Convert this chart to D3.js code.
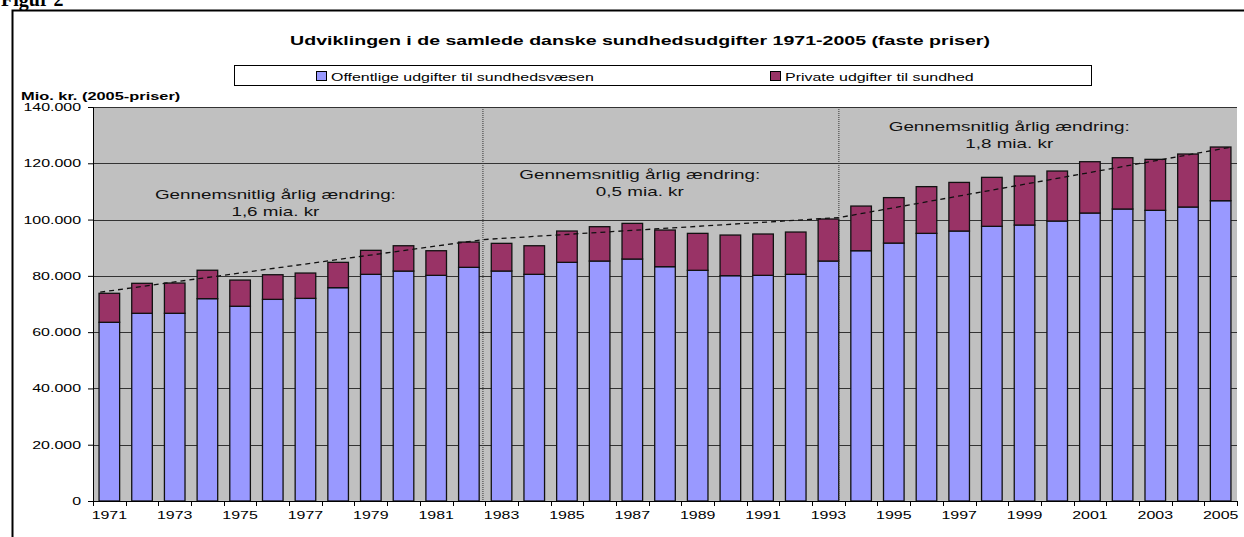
<!DOCTYPE html>
<html>
<head>
<meta charset="utf-8">
<script src="https://cdn.jsdelivr.net/npm/d3@7"></script>
<style>
  body { margin: 0; background: #fff; }
  svg { display: block; font-family: "Liberation Sans", Arial, sans-serif; }
</style>
</head>
<body>
<svg id="chart" width="1244" height="537"></svg>
<script>
// data (mio. kr., 2005-priser)
var years = d3.range(1971, 2006).map(String);
var totals = [73800, 77350, 77450, 82000, 78500, 80400, 81000, 84800, 89070, 90700, 88930, 92000,
    91550, 90700, 95930, 97470, 98650, 96280, 95100, 94500, 94870, 95570, 100200, 104800,
    107800, 111700, 113200, 115000, 115470, 117250, 120560, 121980, 121400, 123290, 125780];
var publicSpend = [63500, 66700, 66700, 71900, 69200, 71650, 72000, 75800, 80540, 81700, 80180, 83030,
    81720, 80540, 84800, 85270, 85980, 83260, 81970, 80060, 80180, 80540, 85270, 88930,
    91650, 95100, 95930, 97600, 98060, 99480, 102330, 103750, 103280, 104460, 106700];
var privateSpend = totals.map(function (t, i) { return t - publicSpend[i]; });
var yTicks = [0, 20000, 40000, 60000, 80000, 100000, 120000, 140000];
var seriesKeys = ["Offentlige udgifter til sundhedsvæsen", "Private udgifter til sundhed"];
// trend line (year position, value) and period breaks
var trendPoints = [[1970.72, 74200], [1982.45, 92900], [1993.32, 100700], [2005.3, 125700]];
var breakYears = [1982.43, 1993.32];
var notes = [
    {year: 1976.08, value: 107300, lines: ["Gennemsnitlig årlig ændring:", "1,6 mia. kr"]},
    {year: 1987.23, value: 114300, lines: ["Gennemsnitlig årlig ændring:", "0,5 mia. kr"]},
    {year: 1998.53, value: 131300, lines: ["Gennemsnitlig årlig ændring:", "1,8 mia. kr"]}
];

var svg = d3.select("#chart");
var margin = {top: 107, right: 7, bottom: 36, left: 93};
var W = 1244, H = 537;
var plotW = W - margin.left - margin.right;
var plotH = H - margin.top - margin.bottom;
var SX = 1.45; // the original figure is stretched sideways

var colors = ["#9999ff", "#993366"];

// place a text at (tx, ty), stretched horizontally like the source
function wideText(sel, tx, ty, size) {
    return sel.append("text")
        .attr("transform", "translate(" + tx + "," + ty + ") scale(" + SX + ",1)")
        .attr("font-size", size);
}

// outer frame + figure label (cut by the page top, as in the source)
svg.append("text").attr("x", 1).attr("y", 6)
    .attr("font-family", "'Liberation Serif', 'Times New Roman', serif")
    .attr("font-weight", "bold").attr("font-size", 20).text("Figur 2");
svg.append("path").attr("d", "M12.5,540 V10.5 H1250")
    .attr("fill", "none").attr("stroke", "#000").attr("stroke-width", 2);

wideText(svg, 640, 45, 13.5).attr("text-anchor", "middle").attr("font-weight", "bold")
    .text("Udviklingen i de samlede danske sundhedsudgifter 1971-2005 (faste priser)");

wideText(svg, 21, 100, 11.3).attr("font-weight", "bold")
    .text("Mio. kr. (2005-priser)");

// legend
var legend = svg.append("g");
legend.append("rect").attr("x", 234.5).attr("y", 65.5).attr("width", 857).attr("height", 20)
    .attr("fill", "#fff").attr("stroke", "#000");
var legendX = [316, 770];
seriesKeys.forEach(function (k, i) {
    legend.append("rect").attr("x", legendX[i] + 0.5).attr("y", 71.5).attr("width", 10).attr("height", 9)
        .attr("fill", colors[i]).attr("stroke", "#000");
    wideText(legend, legendX[i] + 15, 80.5, 11).text(k);
});

var g = svg.append("g").attr("transform", "translate(" + margin.left + "," + margin.top + ")");

var x = d3.scaleBand().domain(years).range([0, plotW]).paddingInner(0.37).paddingOuter(0.185);
var step = x.step();
// continuous year position (year -> band centre)
var xl = d3.scaleLinear().domain([1971, 2005])
    .range([x("1971") + x.bandwidth() / 2, x("2005") + x.bandwidth() / 2]);
var y = d3.scaleLinear().domain([0, 140000]).range([plotH, 0]);

g.append("rect").attr("width", plotW).attr("height", plotH).attr("fill", "#c0c0c0");

// gridlines
g.append("g").selectAll("line").data(yTicks.slice(1)).enter().append("line")
    .attr("x1", 0).attr("x2", plotW)
    .attr("y1", function (d) { return Math.round(y(d)) + 0.5; })
    .attr("y2", function (d) { return Math.round(y(d)) + 0.5; })
    .attr("stroke", "#333").attr("stroke-width", 1);

// stacked bars
var rows = years.map(function (yr, i) {
    var r = {year: yr};
    r[seriesKeys[0]] = publicSpend[i];
    r[seriesKeys[1]] = privateSpend[i];
    return r;
});
g.append("g").selectAll("g")
    .data(d3.stack().keys(seriesKeys)(rows))
    .enter().append("g")
    .attr("fill", function (d, i) { return colors[i]; })
    .selectAll("rect")
    .data(function (d) { return d; })
    .enter().append("rect")
    .attr("x", function (d) { return x(d.data.year); })
    .attr("y", function (d) { return y(d[1]); })
    .attr("width", x.bandwidth())
    .attr("height", function (d) { return y(d[0]) - y(d[1]); })
    .attr("stroke", "#111").attr("stroke-width", 1.3);

// period breaks
g.append("g").selectAll("line").data(breakYears).enter().append("line")
    .attr("x1", function (d) { return xl(d); }).attr("x2", function (d) { return xl(d); })
    .attr("y1", 0).attr("y2", plotH)
    .attr("stroke", "#333").attr("stroke-width", 1).attr("stroke-dasharray", "1,1");

// trend line
g.append("path").datum(trendPoints)
    .attr("d", d3.line().x(function (d) { return xl(d[0]); }).y(function (d) { return y(d[1]); }))
    .attr("fill", "none").attr("stroke", "#111").attr("stroke-width", 1.3)
    .attr("stroke-dasharray", "5,4");

// notes
notes.forEach(function (n) {
    var t = wideText(g, xl(n.year), y(n.value), 13).attr("text-anchor", "middle").attr("fill", "#111");
    n.lines.forEach(function (l, i) {
        t.append("tspan").attr("x", 0).attr("y", i * 16.5).text(l);
    });
});

// axes
var yAxis = g.append("g")
    .call(d3.axisLeft(y).tickValues(yTicks).tickSize(5).tickPadding(6)
        .tickFormat(function (d) { return d === 0 ? "0" : d3.format(",")(d).replace(/,/g, "."); }));
yAxis.selectAll("text").attr("font-size", 11).attr("fill", "#000")
    .attr("font-family", "'Liberation Sans', Arial, sans-serif")
    .attr("x", -12 / SX).attr("transform", "scale(" + SX + ",1)");
yAxis.select(".domain").attr("stroke", "#000");

var xAxis = g.append("g").attr("transform", "translate(0," + plotH + ")");
xAxis.append("line").attr("x1", 0).attr("x2", plotW).attr("y1", 0.5).attr("y2", 0.5).attr("stroke", "#000");
xAxis.selectAll(".tk").data(d3.range(0, years.length + 1)).enter().append("line")
    .attr("x1", function (i) { return Math.round(i * step) + 0.5; })
    .attr("x2", function (i) { return Math.round(i * step) + 0.5; })
    .attr("y1", 0).attr("y2", 5).attr("stroke", "#000");
years.filter(function (d, i) { return i % 2 === 0; }).forEach(function (d) {
    wideText(xAxis, x(d) + x.bandwidth() / 2, 18, 11).attr("text-anchor", "middle").text(d);
});
</script>
</body>
</html>
